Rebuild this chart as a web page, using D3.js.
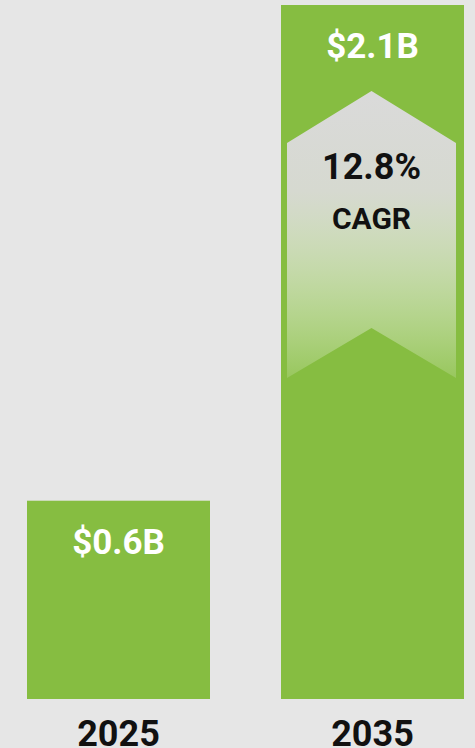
<!DOCTYPE html>
<html>
<head>
<meta charset="utf-8">
<script src="https://cdn.jsdelivr.net/npm/d3@7"></script>
<style>
  html, body { margin: 0; padding: 0; background: #e6e6e6; }
  svg { display: block; }
  text { font-family: Roboto, "Noto Sans", sans-serif; font-weight: bold; }
</style>
</head>
<body>
<div class="container"></div>
<script>
const WIDTH = 475;
const HEIGHT = 748;
const BASE = 699;
const TOP = 5;

var years = ["2025", "2035"];
var values = [0.6, 2.1];
var valueLabels = ["$0.6B", "$2.1B"];
var cagrLabel = ["12.8%", "CAGR"];

var svg = d3.select('.container').append('svg')
    .attr('width', WIDTH)
    .attr('height', HEIGHT);

var xScale = d3.scaleBand().domain(years).range([27, 464]).paddingInner(71/254).paddingOuter(0);
var yScale = d3.scaleLinear().domain([0, 2.1]).range([BASE, TOP]);

// gradient for the growth arrow
var grad = svg.append('defs').append('linearGradient')
    .attr('id', 'arrowGrad')
    .attr('x1', 0).attr('y1', 0).attr('x2', 0).attr('y2', 1);
grad.append('stop').attr('offset', '0%').attr('stop-color', '#dadada').attr('stop-opacity', 1);
grad.append('stop').attr('offset', '35%').attr('stop-color', '#d6d9d0').attr('stop-opacity', 1);
grad.append('stop').attr('offset', '100%').attr('stop-color', '#ffffff').attr('stop-opacity', 0.15);

svg.selectAll('rect.bar')
    .data(values)
    .enter().append('rect')
    .attr('class', 'bar')
    .attr('x', function(d, i) { return xScale(years[i]); })
    .attr('y', function(d) { return yScale(d); })
    .attr('width', xScale.bandwidth())
    .attr('height', function(d) { return BASE - yScale(d); })
    .attr('fill', '#86bd41');

svg.selectAll('text.val')
    .data(valueLabels)
    .enter().append('text')
    .attr('class', 'val')
    .attr('x', function(d, i) { return xScale(years[i]) + xScale.bandwidth()/2; })
    .attr('y', function(d, i) { return yScale(values[i]) + 53; })
    .attr('text-anchor', 'middle')
    .attr('font-size', 35)
    .attr('fill', '#ffffff')
    .text(function(d) { return d; });

svg.selectAll('text.year')
    .data(years)
    .enter().append('text')
    .attr('class', 'year')
    .attr('x', function(d) { return xScale(d) + xScale.bandwidth()/2; })
    .attr('y', BASE + 47)
    .attr('text-anchor', 'middle')
    .attr('font-size', 36)
    .attr('fill', '#111111')
    .text(function(d) { return d; });

// arrow inside the taller bar
var bx = xScale(years[1]);
var bw = xScale.bandwidth();
var left = bx + 6, right = bx + bw - 8, mid = (left + right) / 2;
var tipY = yScale(values[1]) + 86;
var shoulder = tipY + 52;
var bottom = tipY + 287;
var notch = bottom - 50;
var pts = [[mid, tipY], [right, shoulder], [right, bottom], [mid, notch], [left, bottom], [left, shoulder]];
svg.append('path')
    .attr('d', d3.line()(pts) + 'Z')
    .attr('fill', 'url(#arrowGrad)');

svg.append('text')
    .attr('x', mid).attr('y', 179)
    .attr('text-anchor', 'middle')
    .attr('font-size', 36)
    .attr('fill', '#111111')
    .text(cagrLabel[0]);

svg.append('text')
    .attr('x', mid).attr('y', 229)
    .attr('text-anchor', 'middle')
    .attr('font-size', 30)
    .attr('fill', '#111111')
    .text(cagrLabel[1]);
</script>
</body>
</html>
